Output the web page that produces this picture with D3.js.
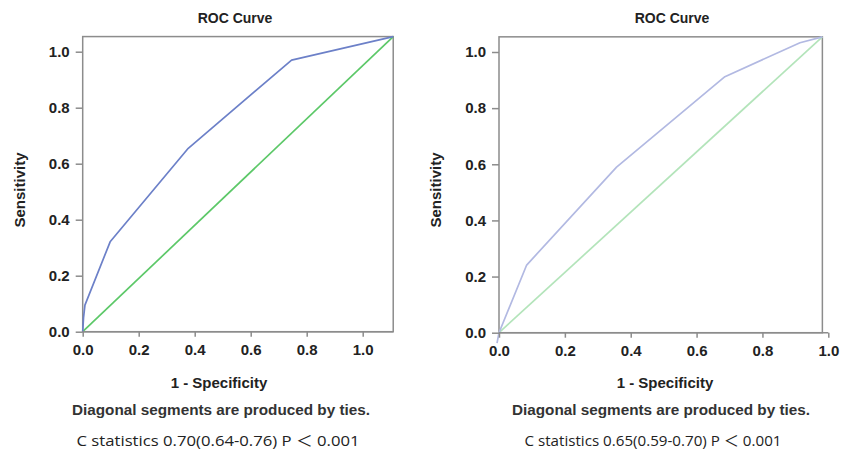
<!DOCTYPE html>
<html>
<head>
<meta charset="utf-8">
<script src="https://cdn.jsdelivr.net/npm/d3@7"></script>
<style>
  body { margin: 0; background: #fff; }
  svg { display: block; }
  .tick text { font-family: "Liberation Sans", Arial, sans-serif; font-weight: bold; font-size: 15px; fill: #222; }
</style>
</head>
<body>
<div id="chart"></div>
<script>
// values, in axis units
var tickValues = [0, 0.2, 0.4, 0.6, 0.8, 1.0];

var leftCurveX = [0, 0.003, 0.008, 0.098, 0.377, 0.746, 1.109];
var leftCurveY = [0, 0.05, 0.095, 0.321, 0.655, 0.970, 1.054];
var leftDiagX = [0, 1.109];
var leftDiagY = [0, 1.054];

var rightCurveX = [-0.006, 0, 0.084, 0.357, 0.686, 0.914, 0.982];
var rightCurveY = [-0.037, 0, 0.241, 0.59, 0.912, 1.033, 1.054];
var rightDiagX = [0, 0.982];
var rightDiagY = [0, 1.054];

var titles = ["ROC Curve", "ROC Curve"];
var notes = ["Diagonal segments are produced by ties.", "Diagonal segments are produced by ties."];
var stats = ["C  statistics 0.70(0.64-0.76) P \uFF1C 0.001", "C statistics 0.65(0.59-0.70) P \uFF1C 0.001"];

var width = 844, height = 451;
var sansBold = "'Liberation Sans', Arial, sans-serif";

var svg = d3.select("#chart")
    .append("svg")
    .attr("width", width)
    .attr("height", height);

function zip(xs, ys) {
    return xs.map(function(x, i) { return [x, ys[i]]; });
}

function drawPanel(p) {
    var x = d3.scaleLinear().domain([0, 1]).range([p.x0, p.x1]);
    var y = d3.scaleLinear().domain([0, 1]).range([p.y0, p.y1]);

    var g = svg.append("g");

    // plot frame
    g.append("rect")
        .attr("x", x(0))
        .attr("y", y(p.boxTop))
        .attr("width", x(p.boxRight) - x(0))
        .attr("height", y(0) - y(p.boxTop))
        .attr("fill", "none")
        .attr("stroke", "#8c8c8c")
        .attr("stroke-width", 1.5);

    var line = d3.line()
        .x(function(d) { return x(d[0]); })
        .y(function(d) { return y(d[1]); });

    g.append("path")
        .datum(zip(p.diagX, p.diagY))
        .attr("fill", "none")
        .attr("stroke", p.green)
        .attr("stroke-width", 1.7)
        .attr("d", line);

    g.append("path")
        .datum(zip(p.curveX, p.curveY))
        .attr("fill", "none")
        .attr("stroke", p.blue)
        .attr("stroke-width", 1.7)
        .attr("stroke-linejoin", "round")
        .attr("d", line);

    var xAxis = g.append("g")
        .attr("transform", "translate(0," + y(0) + ")")
        .attr("font-family", null)
        .call(d3.axisBottom(x).tickValues(tickValues).tickSize(5).tickSizeOuter(0).tickPadding(8)
            .tickFormat(d3.format(".1f")));
    xAxis.attr("font-family", sansBold).attr("font-size", 15);
    xAxis.select(".domain").attr("stroke", "#8c8c8c").attr("stroke-width", 1.5)
        .attr("d", "M" + x(0) + ",0H" + Math.max(x(1), x(p.boxRight)));
    xAxis.selectAll(".tick line").attr("stroke", "#8c8c8c").attr("stroke-width", 1.5);

    var yAxis = g.append("g")
        .attr("transform", "translate(" + x(0) + ",0)")
        .call(d3.axisLeft(y).tickValues(tickValues).tickSize(7).tickSizeOuter(0).tickPadding(6)
            .tickFormat(d3.format(".1f")));
    yAxis.attr("font-family", sansBold).attr("font-size", 15);
    yAxis.select(".domain").remove();
    yAxis.selectAll(".tick line").attr("stroke", "#8c8c8c").attr("stroke-width", 1.5);

    svg.append("text")
        .attr("x", p.titleX)
        .attr("y", 23)
        .attr("text-anchor", "middle")
        .style("font-family", sansBold)
        .style("font-weight", "bold")
        .style("font-size", "14px")
        .attr("fill", "#222")
        .text(p.title);

    svg.append("text")
        .attr("transform", "translate(" + p.yLabelX + ",190) rotate(-90)")
        .attr("text-anchor", "middle")
        .style("font-family", sansBold)
        .style("font-weight", "bold")
        .style("font-size", "15px")
        .attr("fill", "#222")
        .text("Sensitivity");

    svg.append("text")
        .attr("x", p.xLabelX)
        .attr("y", 388)
        .attr("text-anchor", "middle")
        .style("font-family", sansBold)
        .style("font-weight", "bold")
        .style("font-size", "15px")
        .attr("fill", "#222")
        .text("1 - Specificity");

    svg.append("text")
        .attr("x", p.noteX)
        .attr("y", 415)
        .attr("text-anchor", "middle")
        .attr("textLength", 298)
        .attr("lengthAdjust", "spacingAndGlyphs")
        .style("font-family", sansBold)
        .style("font-size", "14px")
        .style("font-weight", "bold")
        .attr("fill", "#333")
        .text(p.note);

    svg.append("text")
        .attr("x", p.statX)
        .attr("y", 446)
        .attr("text-anchor", "middle")
        .attr("textLength", p.statW)
        .attr("lengthAdjust", "spacingAndGlyphs")
        .style("font-family", "'Open Sans', 'Noto Sans CJK SC', sans-serif")
        .style("font-size", "15px")
        .attr("fill", "#222")
        .text(p.stat);
}

drawPanel({
    x0: 82.7, x1: 362.7, y0: 331.7, y1: 51.7,
    boxTop: 1.054, boxRight: 1.109,
    curveX: leftCurveX, curveY: leftCurveY,
    diagX: leftDiagX, diagY: leftDiagY,
    blue: "#6c80c8", green: "#5cc868",
    title: titles[0], titleX: 235, yLabelX: 25, xLabelX: 219,
    note: notes[0], noteX: 221,
    stat: stats[0], statX: 218, statW: 283
});

drawPanel({
    x0: 499, x1: 828.3, y0: 332.7, y1: 52,
    boxTop: 1.054, boxRight: 0.982,
    curveX: rightCurveX, curveY: rightCurveY,
    diagX: rightDiagX, diagY: rightDiagY,
    blue: "#b2b9e2", green: "#b3e4ba",
    title: titles[1], titleX: 672, yLabelX: 441, xLabelX: 665,
    note: notes[1], noteX: 661,
    stat: stats[1], statX: 653, statW: 257
});
</script>
</body>
</html>
